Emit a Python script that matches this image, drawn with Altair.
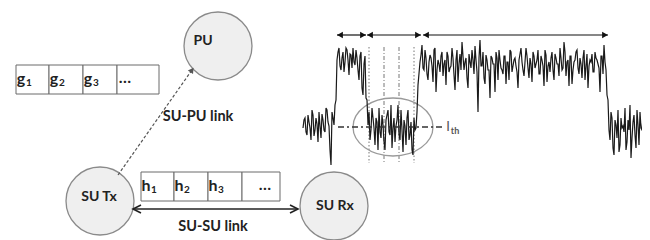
import altair as alt
import pandas as pd

# ---------------- data ----------------
# nodes (circles)
node_labels = ["PU", "SU Tx", "SU Rx"]
node_cx = [218, 100, 334]
node_cy = [46, 201, 206]
node_lx = [203, 99, 335]
node_ly = [41, 197, 206]

# channel-gain boxes
g_edges = [16, 49, 83, 117, 159]
g_top, g_bot = 65, 94
g_letters = ["g", "g", "g", "…"]
g_subs = ["1", "2", "3", ""]
h_edges = [141, 174, 208, 242, 280]
h_top, h_bot = 172, 201
h_letters = ["h", "h", "h", "…"]
h_subs = ["1", "2", "3", ""]

# link captions
link_labels = ["SU-PU link", "SU-SU link"]
link_x = [198, 213]
link_y = [117, 227]

# received-signal trace: even samples and odd samples for each segment
sig_a = [128, 118, 135, 122, 140, 115, 130, 124, 112, 138, 120, 132, 110, 126, 165, 118, 105]
sig_a2 = [120, 132, 115, 128, 110, 136, 118, 142, 126, 114, 130, 108, 122, 150, 112, 125, 100]
sig_b = [60, 48, 70, 52, 62, 50, 75, 55, 48, 65, 58, 80, 52, 95, 56]
sig_b2 = [52, 66, 58, 72, 48, 60, 54, 68, 62, 50, 70, 56, 88, 64, 98]
sig_c = [100, 112, 130, 118, 145, 122, 108, 138, 125, 150, 115, 132, 105, 128, 142, 120,
         135, 110, 152, 126, 118, 140, 122, 155, 130, 112]
sig_c2 = [125, 140, 108, 128, 118, 150, 132, 115, 142, 120, 110, 135, 148, 118, 126, 105,
          140, 130, 120, 145, 110, 135, 150, 118, 128, 85]
sig_d = [62, 45, 70, 58, 80, 55, 66, 50, 92, 60, 72, 52, 64, 85, 56, 68, 48, 75, 60, 82,
         54, 42, 70, 58, 88, 62, 50, 74, 60, 112, 40, 66, 78, 55, 70, 98, 58, 64, 52, 80,
         60, 70, 56, 84, 62, 50, 72, 60, 66, 88, 54, 62, 76, 48, 68, 58, 82, 56, 64, 50,
         74, 60, 86, 55, 66, 72, 52, 80, 58, 64, 48, 70, 42, 76, 60, 56, 84, 62, 52, 68,
         58, 78, 50, 66, 88, 60, 54, 72, 58, 64, 92, 56, 45, 70]
sig_d2 = [55, 68, 50, 74, 62, 58, 82, 48, 70, 64, 56, 76, 60, 52, 72, 66, 58, 90, 50, 64,
          70, 56, 62, 78, 54, 68, 60, 46, 72, 58, 66, 52, 84, 60, 70, 56, 64, 92, 58, 50,
          68, 74, 56, 62, 80, 52, 66, 58, 72, 60, 48, 70, 62, 56, 78, 64, 52, 68, 60, 74,
          56, 66, 50, 82, 62, 58, 70, 54, 64, 76, 58, 68, 52, 62, 86, 56, 70, 60, 50, 74,
          64, 58, 80, 54, 66, 62, 72, 52, 60, 68, 56, 74, 62, 95]
sig_e = [100, 140, 118, 155, 125, 110, 145, 128, 132, 150, 120, 105, 138, 115, 148, 125, 112, 130]
sig_e2 = [130, 112, 148, 120, 138, 152, 118, 126, 108, 142, 130, 158, 122, 135, 110, 145, 128, 118]
seg_start = [303, 337, 367, 420, 608]

# annotation geometry
thr_y, thr_x0, thr_x1 = 127, 338, 443
vlines_dot = [369, 414]
vlines_dashdot = [384, 399]
vline_top, vline_bot = 47, 163
ellipse_c = (393, 127)
span_y = 35
span_start = [337, 367, 423]
span_end = [366, 421, 608]

# ---------------- build ----------------
xs = alt.Scale(domain=[8, 642], nice=False, zero=False)
ys = alt.Scale(domain=[240, 8], nice=False, zero=False)


def X(f="x"):
    return alt.X(f"{f}:Q", scale=xs, axis=None)


def Y(f="y"):
    return alt.Y(f"{f}:Q", scale=ys, axis=None)


FONT = "Lato"
TXT = "#222222"

nodes = pd.DataFrame({"x": node_cx, "y": node_cy})
circles = alt.Chart(nodes).mark_circle(
    size=4624, color="#efefef", opacity=1, stroke="#8a8a8a", strokeWidth=1.3
).encode(x=X(), y=Y())

node_text = alt.Chart(pd.DataFrame({"x": node_lx, "y": node_ly, "t": node_labels})).mark_text(
    font=FONT, fontWeight="bold", fontSize=14, color=TXT, baseline="middle"
).encode(x=X(), y=Y(), text="t:N")


def cells(edges, top, bot):
    return pd.DataFrame({"x": edges[:-1], "x2": edges[1:], "y": [top] * (len(edges) - 1),
                         "y2": [bot] * (len(edges) - 1)})


boxes_df = pd.concat([cells(g_edges, g_top, g_bot), cells(h_edges, h_top, h_bot)])
boxes = alt.Chart(boxes_df).mark_rect(fill="white", stroke="#6a6a6a", strokeWidth=1).encode(
    x=X(), x2="x2:Q", y=Y(), y2="y2:Q")


def cell_text(edges, top, bot, letters, subs, dots_shift):
    rows, srows = [], []
    cy = (top + bot) / 2
    for i, (l, s) in enumerate(zip(letters, subs)):
        if l == "…":
            rows.append({"x": (edges[i] + edges[i + 1]) / 2 + dots_shift, "y": cy - 2, "t": "…"})
        else:
            rows.append({"x": edges[i] + 5, "y": cy - 1, "t": l})
            srows.append({"x": edges[i] + 13, "y": cy + 3, "t": s})
    return rows, srows


r1, s1 = cell_text(g_edges, g_top, g_bot, g_letters, g_subs, -13)
r2, s2 = cell_text(h_edges, h_top, h_bot, h_letters, h_subs, 4)
main_txt = alt.Chart(pd.DataFrame(r1 + r2)).mark_text(
    font=FONT, fontWeight="bold", fontSize=16, color=TXT, baseline="middle"
).encode(x=X(), y=Y(), text="t:N")
sub_txt = alt.Chart(pd.DataFrame(s1 + s2)).mark_text(
    font=FONT, fontWeight="bold", fontSize=10, color=TXT, baseline="middle"
).encode(x=X(), y=Y(), text="t:N")

link_txt = alt.Chart(pd.DataFrame({"x": link_x, "y": link_y, "t": link_labels})).mark_text(
    font=FONT, fontWeight="bold", fontSize=14.5, color=TXT, baseline="middle"
).encode(x=X(), y=Y(), text="t:N")

# SU-PU dashed link with arrow head
supu = alt.Chart(pd.DataFrame({"x": [118], "y": [175], "x2": [192], "y2": [70]})).mark_rule(
    color="#555", strokeDash=[3, 2], strokeWidth=1.2).encode(x=X(), y=Y(), x2="x2:Q", y2="y2:Q")
supu_head = alt.Chart(pd.DataFrame({"x": [192], "y": [70]})).mark_point(
    shape="triangle-up", filled=True, color="#555", size=40, angle=35, opacity=1
).encode(x=X(), y=Y())

# SU-SU double arrow
susu = alt.Chart(pd.DataFrame({"x": [133], "y": [209], "x2": [298], "y2": [209]})).mark_rule(
    color="#222", strokeWidth=1.6).encode(x=X(), y=Y(), x2="x2:Q", y2="y2:Q")
chev_l = alt.Chart(pd.DataFrame({"x": [137], "y": [209]})).mark_point(
    shape="M 1 -1 L -1 0 L 1 1", filled=False, color="#222", strokeWidth=1.6, size=64, opacity=1
).encode(x=X(), y=Y())
chev_r = alt.Chart(pd.DataFrame({"x": [294], "y": [209]})).mark_point(
    shape="M -1 -1 L 1 0 L -1 1", filled=False, color="#222", strokeWidth=1.6, size=64, opacity=1
).encode(x=X(), y=Y())

# signal
sx, sy = [], []
for start, seg, seg2 in zip(seg_start, [sig_a, sig_b, sig_c, sig_d, sig_e],
                            [sig_a2, sig_b2, sig_c2, sig_d2, sig_e2]):
    sx += [start + 2 * i for i in range(len(seg))]
    sy += seg
    sx += [start + 1 + 2 * i for i in range(len(seg2))]
    sy += seg2
signal = alt.Chart(pd.DataFrame({"x": sx, "y": sy})).mark_line(
    color="#1a1a1a", strokeWidth=1.2).encode(x=X(), y=Y(), order="x:Q")

thr = alt.Chart(pd.DataFrame({"x": [thr_x0], "x2": [thr_x1], "y": [thr_y]})).mark_rule(
    color="#333", strokeWidth=1.6, strokeDash=[6, 3, 2, 3]).encode(x=X(), x2="x2:Q", y=Y())
thr_lbl = alt.Chart(pd.DataFrame({"x": [448], "y": [127], "t": ["I"]})).mark_text(
    font=FONT, fontSize=13, fill="#555555", baseline="middle").encode(x=X(), y=Y(), text="t:N")
thr_sub = alt.Chart(pd.DataFrame({"x": [455], "y": [131], "t": ["th"]})).mark_text(
    font=FONT, fontSize=9, fontWeight="bold", fill="#555555", baseline="middle").encode(x=X(), y=Y(), text="t:N")

vdot = alt.Chart(pd.DataFrame({"x": vlines_dot, "y": [vline_top] * 2, "y2": [vline_bot] * 2})).mark_rule(
    color="#777", strokeDash=[1.5, 2], strokeWidth=1).encode(x=X(), y=Y(), y2="y2:Q")
vdd = alt.Chart(pd.DataFrame({"x": vlines_dashdot, "y": [vline_top] * 2, "y2": [vline_bot] * 2})).mark_rule(
    color="#777", strokeDash=[4, 2, 1, 2], strokeWidth=1).encode(x=X(), y=Y(), y2="y2:Q")

ellipse = alt.Chart(pd.DataFrame({"x": [ellipse_c[0]], "y": [ellipse_c[1]]})).mark_point(
    shape="M -1 0 A 1 0.725 0 1 1 1 0 A 1 0.725 0 1 1 -1 0 Z", filled=False, color="#9a9a9a",
    strokeWidth=1.3, size=6400, opacity=1).encode(x=X(), y=Y())

spans = alt.Chart(pd.DataFrame({"x": span_start, "x2": span_end, "y": [span_y] * 3})).mark_rule(
    color="#111", strokeWidth=1.2).encode(x=X(), x2="x2:Q", y=Y())
heads_l = alt.Chart(pd.DataFrame({"x": [s + 3 for s in span_start], "y": [span_y] * 3})).mark_point(
    shape="triangle-left", filled=True, color="#111", size=45, opacity=1).encode(x=X(), y=Y())
heads_r = alt.Chart(pd.DataFrame({"x": [e - 3 for e in span_end], "y": [span_y] * 3})).mark_point(
    shape="triangle-right", filled=True, color="#111", size=45, opacity=1).encode(x=X(), y=Y())

chart = alt.layer(
    circles, boxes, supu, supu_head, susu, chev_l, chev_r,
    node_text, main_txt, sub_txt, link_txt,
    vdot, vdd, ellipse, signal, thr, thr_lbl, thr_sub, spans, heads_l, heads_r,
).properties(width=634, height=232, padding=0, autosize="none").configure_view(stroke=None)

chart.save("out.html", embed_options={"renderer": "svg", "actions": False})
